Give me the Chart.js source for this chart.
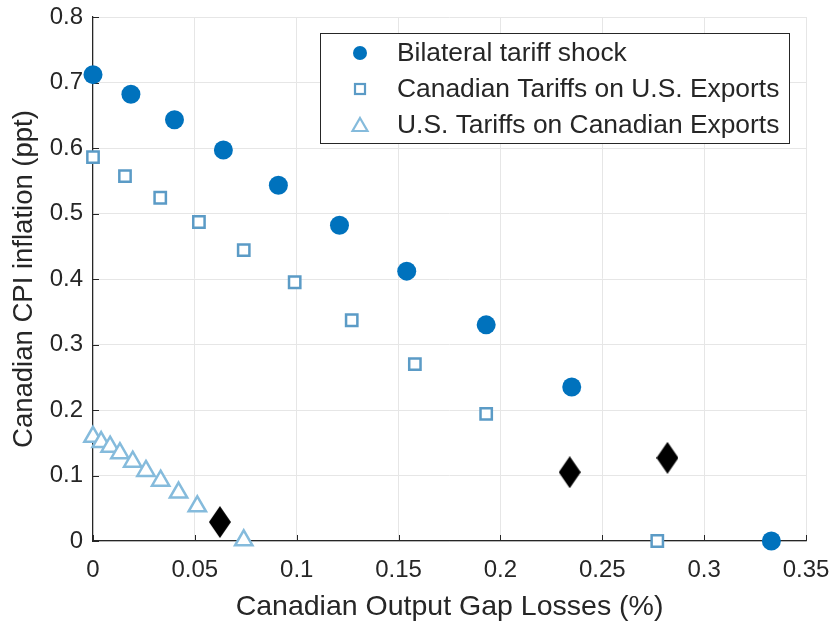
<!DOCTYPE html>
<html>
<head>
<meta charset="utf-8">
<script src="https://cdn.jsdelivr.net/npm/chart.js@4/dist/chart.umd.min.js"></script>
<style>
  html, body { margin: 0; padding: 0; background: #fff; }
  #wrap { width: 832px; height: 624px; }
</style>
</head>
<body>
<div id="wrap"><canvas id="tariffs" width="832" height="624"></canvas></div>
<script>
// values
const bilateralX = [0, 0.0186, 0.040, 0.064, 0.091, 0.121, 0.154, 0.193, 0.235, 0.333];
const bilateralY = [0.712, 0.682, 0.643, 0.597, 0.543, 0.482, 0.412, 0.330, 0.235, 0];

const caTariffX = [0, 0.0157, 0.033, 0.052, 0.074, 0.099, 0.127, 0.158, 0.193, 0.277];
const caTariffY = [0.586, 0.557, 0.524, 0.487, 0.444, 0.395, 0.337, 0.270, 0.194, 0];

const usTariffX = [0, 0.004, 0.0084, 0.0132, 0.0195, 0.026, 0.0332, 0.042, 0.0512, 0.074];
const usTariffY = [0.159, 0.151, 0.144, 0.134, 0.121, 0.107, 0.092, 0.074, 0.053, 0.001];

const diamondX = [0.0623, 0.234, 0.282];
const diamondY = [0.029, 0.105, 0.127];

const seriesNames = ['Bilateral tariff shock', 'Canadian Tariffs on U.S. Exports', 'U.S. Tariffs on Canadian Exports'];

const xTicks = [0, 0.05, 0.1, 0.15, 0.2, 0.25, 0.3, 0.35];
const yTicks = [0, 0.1, 0.2, 0.3, 0.4, 0.5, 0.6, 0.7, 0.8];

const textColor = '#262626';
const font = 'Arial, "Liberation Sans", sans-serif';

function toPoints(xs, ys) {
  return xs.map((x, i) => ({ x: x, y: ys[i] }));
}

// tall black diamond marker
function makeDiamond(w, h) {
  const c = document.createElement('canvas');
  c.width = w;
  c.height = h;
  const g = c.getContext('2d');
  g.fillStyle = '#000';
  g.beginPath();
  g.moveTo(w / 2, 0);
  g.lineTo(w, h / 2);
  g.lineTo(w / 2, h);
  g.lineTo(0, h / 2);
  g.closePath();
  g.fill();
  return c;
}

function fmt(v) {
  return String(Math.round(v * 100) / 100);
}

// short inward tick marks on the two axes (MATLAB style)
const innerTicks = {
  id: 'innerTicks',
  beforeDatasetsDraw(chart) {
    const { ctx, chartArea, scales } = chart;
    ctx.save();
    ctx.strokeStyle = '#262626';
    ctx.lineWidth = 1;
    ctx.beginPath();
    xTicks.forEach(v => {
      const px = Math.round(scales.x.getPixelForValue(v)) + 0.5;
      ctx.moveTo(px, chartArea.bottom);
      ctx.lineTo(px, chartArea.bottom - 6);
    });
    yTicks.forEach(v => {
      const py = Math.round(scales.y.getPixelForValue(v)) + 0.5;
      ctx.moveTo(chartArea.left, py);
      ctx.lineTo(chartArea.left + 6, py);
    });
    ctx.stroke();
    ctx.restore();
  }
};

// legend box drawn inside the plot, like the MATLAB one
const innerLegend = {
  id: 'innerLegend',
  afterDraw(chart) {
    const ctx = chart.ctx;
    const left = 320, top = 33, w = 469, h = 110;
    ctx.save();
    ctx.fillStyle = '#fff';
    ctx.fillRect(left, top, w, h);
    ctx.strokeStyle = '#262626';
    ctx.lineWidth = 1;
    ctx.strokeRect(left + 0.5, top + 0.5, w, h);
    ctx.font = '26.4px ' + font;
    ctx.textBaseline = 'middle';
    for (let i = 0; i < 3; i++) {
      const ds = chart.data.datasets[i];
      const cy = top + 20 + i * 36;
      ctx.strokeStyle = ds.borderColor;
      ctx.lineWidth = 2.2;
      ctx.beginPath();
      if (i === 0) {
        ctx.fillStyle = ds.backgroundColor;
        ctx.arc(360, cy, 7, 0, Math.PI * 2);
        ctx.fill();
      } else if (i === 1) {
        ctx.fillStyle = '#fff';
        ctx.fillRect(355, cy - 5, 10, 10);
        ctx.strokeRect(355, cy - 5, 10, 10);
      } else {
        ctx.fillStyle = '#fff';
        ctx.moveTo(360, cy - 7);
        ctx.lineTo(367.5, cy + 6);
        ctx.lineTo(352.5, cy + 6);
        ctx.closePath();
        ctx.fill();
        ctx.stroke();
      }
      ctx.fillStyle = textColor;
      ctx.fillText(seriesNames[i], 397, cy + 1);
    }
    ctx.restore();
  }
};

const ctx = document.getElementById('tariffs').getContext('2d');

new Chart(ctx, {
  type: 'scatter',
  data: {
    datasets: [
      {
        label: seriesNames[0],
        data: toPoints(bilateralX, bilateralY),
        pointStyle: 'circle',
        pointRadius: 9.5,
        backgroundColor: '#0072BD',
        borderColor: '#0072BD',
        borderWidth: 0,
        clip: false
      },
      {
        label: seriesNames[1],
        data: toPoints(caTariffX, caTariffY),
        pointStyle: 'rect',
        pointRadius: 8,
        backgroundColor: '#ffffff',
        borderColor: '#5b9bc6',
        borderWidth: 2.5,
        clip: false
      },
      {
        label: seriesNames[2],
        data: toPoints(usTariffX, usTariffY),
        pointStyle: 'triangle',
        pointRadius: 10,
        backgroundColor: '#ffffff',
        borderColor: '#85bbdc',
        borderWidth: 2.5,
        clip: false
      },
      {
        label: 'diamonds',
        data: toPoints(diamondX, diamondY),
        pointStyle: makeDiamond(22, 32),
        backgroundColor: '#000',
        borderColor: '#000',
        clip: false
      }
    ]
  },
  options: {
    responsive: false,
    animation: false,
    layout: { padding: { left: 8, right: 26, top: 17, bottom: 0 } },
    scales: {
      x: {
        type: 'linear',
        min: 0,
        max: 0.35,
        afterBuildTicks: (scale) => { scale.ticks = xTicks.map(v => ({ value: v })); },
        afterFit: (scale) => {
          scale.height = 83;
          scale.paddingLeft = 0;
          scale.paddingRight = 0;
        },
        ticks: {
          color: textColor,
          font: { size: 24, family: font },
          padding: 15,
          maxRotation: 0,
          callback: (v) => fmt(v)
        },
        grid: { color: '#e6e6e6', drawTicks: false },
        border: { display: true, color: '#262626', width: 1.2 },
        title: {
          display: true,
          text: 'Canadian Output Gap Losses (%)',
          color: textColor,
          font: { size: 28.5, family: font },
          padding: { top: 0, bottom: 0 }
        }
      },
      y: {
        type: 'linear',
        min: 0,
        max: 0.8,
        afterBuildTicks: (scale) => { scale.ticks = yTicks.map(v => ({ value: v })); },
        afterFit: (scale) => {
          scale.width = 85;
          scale.paddingTop = 0;
          scale.paddingBottom = 0;
        },
        ticks: {
          color: textColor,
          font: { size: 24, family: font },
          padding: 10,
          callback: (v) => fmt(v)
        },
        grid: { color: '#e6e6e6', drawTicks: false },
        border: { display: true, color: '#262626', width: 1.2 },
        title: {
          display: true,
          text: 'Canadian CPI inflation (ppt)',
          color: textColor,
          font: { size: 27.5, family: font },
          padding: { top: 0, bottom: 0 }
        }
      }
    },
    plugins: {
      legend: { display: false },
      tooltip: { enabled: false }
    }
  },
  plugins: [innerTicks, innerLegend]
});
</script>
</body>
</html>
